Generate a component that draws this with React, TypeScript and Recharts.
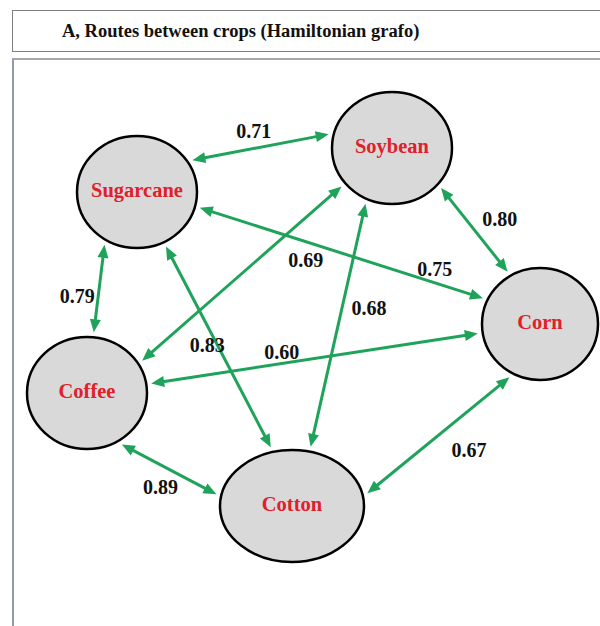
import React from 'react';
import { ScatterChart, Scatter, XAxis, YAxis, ReferenceLine } from 'recharts';

// crops (nodes) and their place on the drawing plane
const NODES = ['Sugarcane', 'Soybean', 'Corn', 'Coffee', 'Cotton'];
const NODE_X = [137, 392, 540, 87, 292];
const NODE_Y = [192, 148, 324, 393, 506];

// routes (edges) and their weights
const EDGE_FROM = ['Sugarcane', 'Soybean', 'Sugarcane', 'Soybean', 'Sugarcane', 'Sugarcane', 'Soybean', 'Coffee', 'Coffee', 'Corn'];
const EDGE_TO = ['Soybean', 'Corn', 'Corn', 'Coffee', 'Coffee', 'Cotton', 'Cotton', 'Corn', 'Cotton', 'Cotton'];
const EDGE_WEIGHT = [0.71, 0.8, 0.75, 0.69, 0.79, 0.83, 0.68, 0.6, 0.89, 0.67];

// layout only
const NODE_RX: Record<string, number> = { Sugarcane: 60, Soybean: 60, Corn: 58, Coffee: 60, Cotton: 72 };
const NODE_RY = 56;
const GAP = 5;
// attach angle (deg) at source / target ellipse
const PORTS: [number, number][] = [
  [-31.5, -167], [41, -121], [15, -155], [141, -32], [120, -84],
  [63.5, -106], [114, -76], [-9, 171], [57.6, -169], [119, -12],
];
// label: fraction along edge, dx, dy
const LABEL_AT: [number, number, number][] = [
  [0.45, 0, -17], [0.37, 34, 0], [0.83, 0, -14], [0.42, 48, 0], [0.58, -21, 0],
  [0.49, -10, 0], [0.43, 27, 0], [0.4, 0, -11], [0.41, 0, 22], [0.63, 49, 0],
];

const GREEN = '#1fa35b';
const SERIF = '"Liberation Serif", "Times New Roman", serif';

const nodeData = NODES.map((name, i) => ({ name, x: NODE_X[i], y: NODE_Y[i] }));

const portPoint = (name: string, deg: number) => {
  const i = NODES.indexOf(name);
  const a = (deg * Math.PI) / 180;
  return {
    x: NODE_X[i] + (NODE_RX[name] + GAP) * Math.cos(a),
    y: NODE_Y[i] + (NODE_RY + GAP) * Math.sin(a),
  };
};

const arrowHead = (tx: number, ty: number, ux: number, uy: number) => {
  const L = 13;
  const hw = 5.5;
  const bx = tx - ux * L;
  const by = ty - uy * L;
  return `${tx},${ty} ${bx - uy * hw},${by + ux * hw} ${bx + uy * hw},${by - ux * hw}`;
};

const edgeShape = (i: number) => (p: any) => {
  const { x1, y1, x2, y2 } = p;
  const dx = x2 - x1;
  const dy = y2 - y1;
  const len = Math.sqrt(dx * dx + dy * dy) || 1;
  const ux = dx / len;
  const uy = dy / len;
  const [t, ox, oy] = LABEL_AT[i];
  return (
    <g>
      <line x1={x1 + ux * 10} y1={y1 + uy * 10} x2={x2 - ux * 10} y2={y2 - uy * 10} stroke={GREEN} strokeWidth={3} />
      <polygon points={arrowHead(x2, y2, ux, uy)} fill={GREEN} />
      <polygon points={arrowHead(x1, y1, -ux, -uy)} fill={GREEN} />
      <text
        x={x1 + dx * t + ox}
        y={y1 + dy * t + oy}
        textAnchor="middle"
        dominantBaseline="central"
        fontFamily={SERIF}
        fontWeight="bold"
        fontSize={20}
        fill="#111"
      >
        {EDGE_WEIGHT[i].toFixed(2)}
      </text>
    </g>
  );
};

const NodeShape = (props: any) => {
  const { cx, cy, payload } = props;
  return (
    <g>
      <ellipse cx={cx} cy={cy} rx={NODE_RX[payload.name]} ry={NODE_RY} fill="#d9d9d9" stroke="#000" strokeWidth={2.5} />
      <text x={cx} y={cy - 2} textAnchor="middle" dominantBaseline="central" fontFamily={SERIF} fontWeight="bold" fontSize={20.5} fill="#e0202a">
        {payload.name}
      </text>
    </g>
  );
};

export default function App() {
  return (
    <div style={{ position: 'absolute', left: 0, top: 0, width: 600, height: 626, overflow: 'hidden', background: '#fff' }}>
      <div
        style={{
          position: 'absolute', left: 12, top: 10, width: 600, height: 42,
          border: '1px solid #7f7f7f', boxSizing: 'border-box',
        }}
      />
      <div
        style={{
          position: 'absolute', left: 62, top: 21, fontFamily: SERIF, fontWeight: 'bold', fontSize: 18.5,
          color: '#111', whiteSpace: 'nowrap',
        }}
      >
        A, Routes between crops (Hamiltonian grafo)
      </div>
      <div
        style={{
          position: 'absolute', left: 12, top: 58, width: 600, height: 600,
          borderTop: '2px solid #a8a8a8', borderLeft: '2px solid #8f9cad', boxSizing: 'border-box',
        }}
      />
      <div style={{ position: 'absolute', left: 0, top: 0 }}>
        <ScatterChart width={600} height={600} margin={{ top: 0, right: 0, bottom: 0, left: 0 }}>
          <XAxis type="number" dataKey="x" domain={[0, 600]} hide />
          <YAxis type="number" dataKey="y" domain={[0, 600]} reversed hide />
          {EDGE_FROM.map((from, i) => {
            const a = portPoint(from, PORTS[i][0]);
            const b = portPoint(EDGE_TO[i], PORTS[i][1]);
            return (
              <ReferenceLine
                key={`edge-${i}`}
                segment={[a, b]}
                ifOverflow="visible"
                shape={edgeShape(i)}
              />
            );
          })}
          <Scatter data={nodeData} shape={NodeShape} isAnimationActive={false} />
        </ScatterChart>
      </div>
    </div>
  );
}
